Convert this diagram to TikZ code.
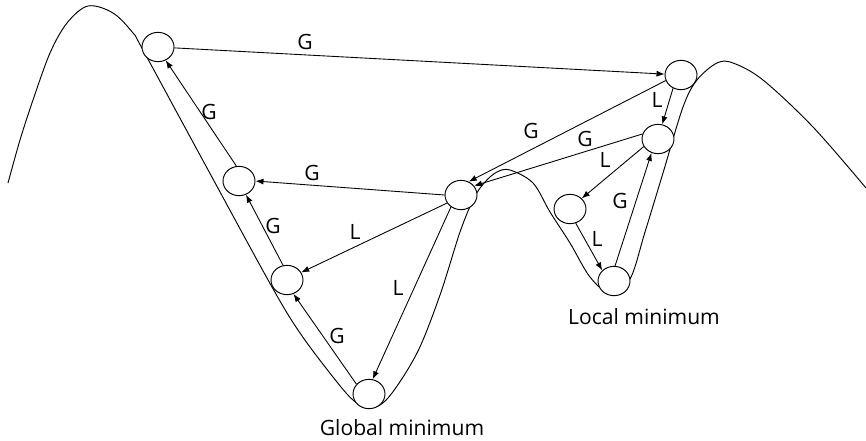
\documentclass[tikz,border=0pt]{standalone}
\usepackage{fontspec}
\setmainfont{Open Sans}
\usetikzlibrary{shapes.geometric,arrows.meta}

\begin{document}
\begin{tikzpicture}[x=0.03cm,y=-0.03cm,
    ball/.style={draw, ellipse, fill=white, line width=0.8pt, minimum width=0.96cm, minimum height=0.88cm, inner sep=0pt},
    move/.style={-{Latex[length=2.4mm,width=1.8mm]}, line width=0.75pt},
    lbl/.style={font=\fontsize{18}{18}\selectfont}]
    \useasboundingbox (0,0) rectangle (866,440);

    % Here is the energy curve
    \draw[line width=0.8pt] plot[smooth, tension=0.55] coordinates {
        (8,183) (20,140) (33,100) (50,53) (67,23) (88,6) (113,13) (133,33)
        (143,50) (207,168) (272,287) (300,333) (333,377) (353,400) (369,408)
        (388,398) (417,353) (440,295) (460,232) (474,198) (485,182) (497,172)
        (510,170) (533,183) (550,212) (570,243) (590,277) (610,293) (630,279)
        (645,232) (663,173) (683,107) (697,80) (717,63) (733,63) (763,80)
        (813,127) (866,188)};

    % the balls
    \node[ball] (a) at (158,47) {};
    \node[ball] (b) at (239,181) {};
    \node[ball] (c) at (287,280) {};
    \node[ball] (d) at (369,394) {};
    \node[ball] (e) at (461,195) {};
    \node[ball] (f) at (681,75) {};
    \node[ball] (h) at (658,139) {};
    \node[ball] (i) at (570,209) {};
    \node[ball] (j) at (614,281) {};

    % the moves
    \draw[move] (a) -- (f);
    \draw[move] (b.100) -- (a.300);
    \draw[move] (e.west) -- (b.east);
    \draw[move] (c.105) -- (b.297);
    \draw[move] (d.142) -- (c.295);
    \draw[move] (e.210) -- (c.28);
    \draw[move] (e.230) -- (d.76);
    \draw[move] (f.200) -- (e.60);
    \draw[move] (h.162) -- (e.35);
    \draw[move] (f.239) -- (h.74);
    \draw[move] (h.208) -- (i.42);
    \draw[move] (i.292) -- (j.138);
    \draw[move] (j.86) -- (h.245);

    % using node for text
    \node[lbl] at (305,42) {G};
    \node[lbl] at (209,112) {G};
    \node[lbl] at (312,173) {G};
    \node[lbl] at (273,226) {G};
    \node[lbl] at (337,336) {G};
    \node[lbl] at (355,232) {L};
    \node[lbl] at (398,288) {L};
    \node[lbl] at (531,131) {G};
    \node[lbl] at (585,139) {G};
    \node[lbl] at (657,100) {L};
    \node[lbl] at (605,160) {L};
    \node[lbl] at (620,201) {G};
    \node[lbl] at (597,239) {L};
    \node[lbl] at (402,428) {Global minimum};
    \node[lbl] at (644,317) {Local minimum};
\end{tikzpicture}
\end{document}
